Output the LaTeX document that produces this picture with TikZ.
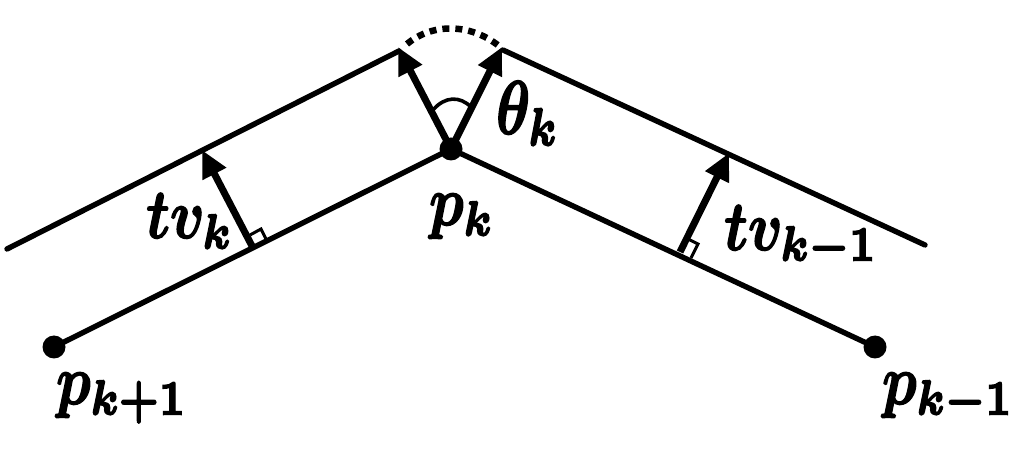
\documentclass[tikz,border=0pt]{standalone}
\usepackage{amsmath}
\usepackage{bm}
\usetikzlibrary{arrows.meta}
\newcommand{\fatmath}[1]{\special{pdf:code q 2 Tr 0.22 w}$\bm{#1}$\special{pdf:code Q}}
\tikzset{
  seg/.style={line width=5.4pt,line cap=round},
  vec/.style={line width=7pt,-{Triangle[length=27pt,width=25pt]}},
  markline/.style={line width=3pt},
  dotnode/.style={circle,fill=black,inner sep=0pt,minimum size=23pt},
  lblbase/.style={inner sep=0pt,anchor=base west,xscale=5.75},
  lbl/.style={lblbase,yscale=7},
}
\begin{document}
\begin{tikzpicture}[x=1pt,y=-1pt]
\useasboundingbox (0,0) rectangle (1013,449);
% points
\node[dotnode] (pk) at (451,149) {};
\node[dotnode] (pn) at (54,347) {};
\node[dotnode] (pp) at (875,347) {};
\coordinate (la) at (7,249);
\coordinate (lb) at (399,51);
\coordinate (ra) at (925,245);
\coordinate (rb) at (503,50);
\coordinate (tipl) at (398,47);
\coordinate (tipr) at (502,47);
\coordinate (basel) at (252,246);
\coordinate (tl) at (202,150);
\coordinate (baser) at (680,252);
\coordinate (tr) at (729,153);
% polylines
\draw[seg] (pn.center) -- (pk.center) -- (pp.center);
\draw[seg] (la) -- (lb);
\draw[seg] (ra) -- (rb);
% vectors
\draw[vec] (pk.center) -- (tipl);
\draw[vec] (pk.center) -- (tipr);
\draw[vec] (basel) -- (tl);
\draw[vec] (baser) -- (tr);
% angle arc
\draw[line width=3.6pt] (433,110) .. controls (445,96) and (460,96) .. (471,107);
% dotted arc
\draw[line width=6.5pt,dash pattern=on 7pt off 6pt] (407,44) .. controls (432,23) and (470,23) .. (499,46);
% right-angle marks
\draw[markline] (250,235) -- (261,229) -- (267,241);
\draw[markline] (686,238) -- (698,244) -- (691,258);
% labels
\node[lblbase,yscale=7.6] (lt) at (495,134) {\fatmath{\theta_k}};
\node[lbl] (lp) at (428,225) {\fatmath{p_k}};
\node[lbl] (ltv) at (145,238) {\fatmath{tv_k}};
\node[lbl] (ltw) at (723,250) {\fatmath{tv_{k-1}}};
\node[lbl] (lpn) at (55,404) {\fatmath{p_{k+1}}};
\node[lbl] (lpp) at (881,404) {\fatmath{p_{k-1}}};
\end{tikzpicture}
\end{document}
